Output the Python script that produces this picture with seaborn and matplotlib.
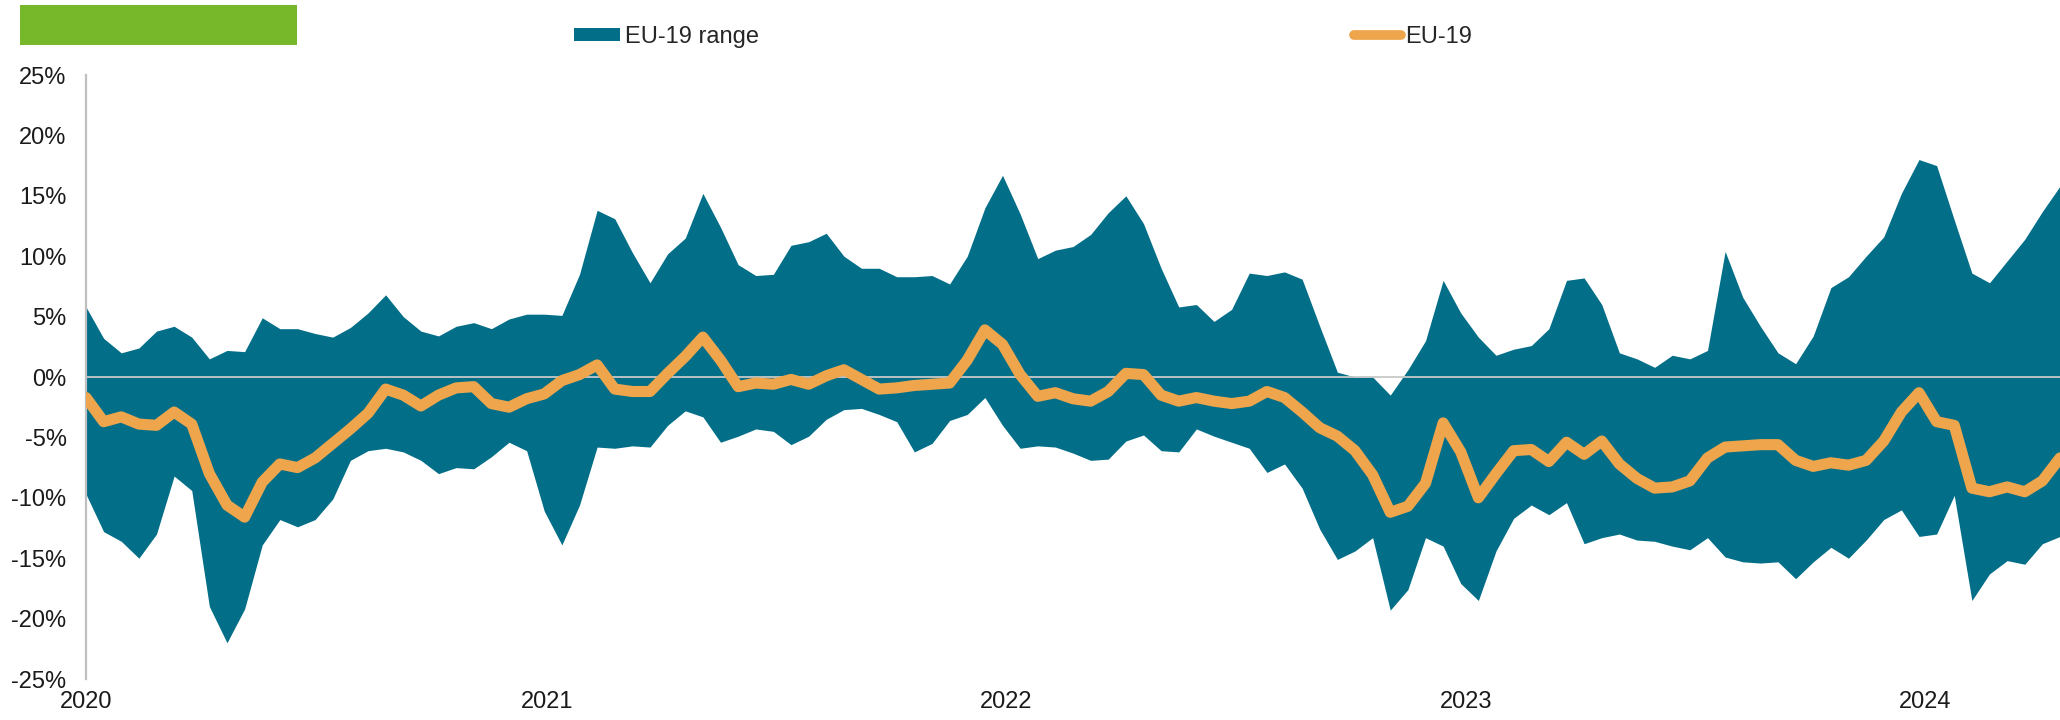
import pandas as pd
import matplotlib.pyplot as plt
import matplotlib.dates as mdates
from matplotlib.patches import Patch, Rectangle
from matplotlib.lines import Line2D
from matplotlib.ticker import FuncFormatter, MultipleLocator
import seaborn as sns

sns.set_theme(style="white")
plt.rcParams['font.family'] = ['Liberation Sans', 'DejaVu Sans']

TEAL = '#026e88'
ORANGE = '#eea54b'
GREEN = '#77b82b'

# fortnightly readings starting 1 Jan 2020 (values in %)
start = '2020-01-01'

range_high = [5.8, 3.2, 2.0, 2.4, 3.8, 4.2, 3.3, 1.5, 2.2, 2.1,
              4.9, 4.0, 4.0, 3.6, 3.3, 4.1, 5.3, 6.8, 5.0, 3.8,
              3.4, 4.2, 4.5, 4.0, 4.8, 5.2, 5.2, 5.1, 8.5, 13.8,
              13.1, 10.3, 7.8, 10.2, 11.5, 15.2, 12.4, 9.3, 8.4, 8.5,
              10.9, 11.2, 11.9, 10.0, 9.0, 9.0, 8.3, 8.3, 8.4, 7.7,
              10.0, 14.0, 16.7, 13.5, 9.8, 10.5, 10.8, 11.8, 13.6, 15.0,
              12.7, 9.0, 5.8, 6.0, 4.6, 5.6, 8.6, 8.4, 8.7, 8.1,
              4.2, 0.4, 0.0, 0.0, -1.5, 0.6, 3.0, 8.0, 5.3, 3.3,
              1.8, 2.3, 2.6, 4.0, 8.0, 8.2, 6.0, 2.0, 1.5, 0.8,
              1.8, 1.5, 2.2, 10.4, 6.6, 4.2, 2.0, 1.1, 3.4, 7.4,
              8.3, 10.0, 11.6, 15.2, 18.0, 17.5, 13.0, 8.6, 7.8, 9.6,
              11.4, 13.7, 15.8]

range_low = [-9.7, -12.8, -13.6, -15.0, -13.0, -8.2, -9.4, -19.0, -22.0, -19.2,
             -13.9, -11.8, -12.4, -11.8, -10.1, -6.9, -6.1, -5.9, -6.2, -6.9,
             -8.0, -7.5, -7.6, -6.6, -5.4, -6.1, -11.1, -13.9, -10.6, -5.8,
             -5.9, -5.7, -5.8, -4.0, -2.8, -3.3, -5.4, -4.9, -4.3, -4.5,
             -5.6, -4.9, -3.5, -2.7, -2.6, -3.1, -3.7, -6.2, -5.5, -3.6,
             -3.1, -1.7, -4.0, -5.9, -5.7, -5.8, -6.3, -6.9, -6.8, -5.3,
             -4.8, -6.1, -6.2, -4.3, -4.9, -5.4, -5.9, -7.9, -7.2, -9.2,
             -12.6, -15.1, -14.4, -13.3, -19.3, -17.6, -13.3, -14.0, -17.1, -18.5,
             -14.4, -11.7, -10.6, -11.4, -10.4, -13.8, -13.3, -13.0, -13.5, -13.6,
             -14.0, -14.3, -13.3, -14.9, -15.3, -15.4, -15.3, -16.7, -15.3, -14.1,
             -15.0, -13.5, -11.8, -11.0, -13.2, -13.0, -9.8, -18.5, -16.3, -15.2,
             -15.5, -13.8, -13.2]

eu19 = [-1.7, -3.7, -3.3, -3.9, -4.0, -2.9, -3.9, -8.0, -10.6, -11.6,
        -8.7, -7.2, -7.5, -6.7, -5.5, -4.3, -3.0, -1.0, -1.5, -2.4,
        -1.5, -0.9, -0.8, -2.2, -2.5, -1.8, -1.4, -0.3, 0.2, 1.0,
        -1.0, -1.2, -1.2, 0.3, 1.7, 3.3, 1.4, -0.8, -0.5, -0.6,
        -0.2, -0.6, 0.1, 0.6, -0.2, -1.0, -0.9, -0.7, -0.6, -0.5,
        1.4, 3.9, 2.7, 0.2, -1.6, -1.3, -1.8, -2.0, -1.2, 0.3,
        0.2, -1.5, -2.0, -1.7, -2.0, -2.2, -2.0, -1.2, -1.7, -2.9,
        -4.2, -4.9, -6.1, -8.1, -11.2, -10.7, -8.8, -3.8, -6.2, -10.0,
        -8.0, -6.1, -6.0, -7.0, -5.4, -6.4, -5.3, -7.2, -8.4, -9.2,
        -9.1, -8.6, -6.7, -5.8, -5.7, -5.6, -5.6, -6.9, -7.4, -7.1,
        -7.3, -6.9, -5.3, -2.9, -1.3, -3.7, -4.0, -9.2, -9.5, -9.1,
        -9.5, -8.6, -6.7]

dates = pd.date_range(start, periods=len(eu19), freq='14D')
df = pd.DataFrame({'Date': dates, 'High': range_high, 'Low': range_low, 'EU-19': eu19})

fig = plt.figure(figsize=(20.6, 7.2), dpi=100)
ax = fig.add_axes([86 / 2060, 1 - 679 / 720, 1 - 86 / 2060, (679 - 75) / 720])

ax.fill_between(df['Date'], df['Low'], df['High'], color=TEAL, linewidth=0, zorder=1)
ax.axhline(0, color='#c8c8c8', linewidth=1.3, zorder=2)
sns.lineplot(data=df, x='Date', y='EU-19', color=ORANGE, linewidth=8, ax=ax,
             zorder=3, legend=False, solid_capstyle='round', solid_joinstyle='round')

ax.set_xlim(df['Date'].iloc[0], df['Date'].iloc[-1])
ax.set_ylim(-25, 25)
ax.yaxis.set_major_locator(MultipleLocator(5))
ax.yaxis.set_major_formatter(FuncFormatter(lambda v, p: f'{int(round(v))}%'))
ax.xaxis.set_major_locator(mdates.YearLocator())
ax.xaxis.set_major_formatter(mdates.DateFormatter('%Y'))
ax.set_xlabel('')
ax.set_ylabel('')
ax.grid(False)
ax.tick_params(axis='both', length=0, labelsize=17, colors='#1a1a1a')
ax.tick_params(axis='y', pad=14)
ax.tick_params(axis='x', pad=9)

for side in ['top', 'right', 'bottom']:
    ax.spines[side].set_visible(False)
ax.spines['left'].set_color('#bfbfbf')
ax.spines['left'].set_linewidth(1.6)

# green header block
fig.add_artist(Rectangle((20 / 2060, 1 - 45 / 720), 277 / 2060, 40 / 720,
                         transform=fig.transFigure, color=GREEN, linewidth=0))

# legend
h_range = Patch(facecolor=TEAL, edgecolor='none')
h_line = Line2D([], [], color=ORANGE, linewidth=7, solid_capstyle='round')
fig.legend([h_range], ['EU-19 range'], loc='center left',
           bbox_to_anchor=(574 / 2060, 1 - 37 / 720), frameon=False, fontsize=17,
           handlelength=1.95, handleheight=0.5, handletextpad=0.2, borderpad=0, borderaxespad=0)
fig.legend([h_line], ['EU-19'], loc='center left',
           bbox_to_anchor=(1354 / 2060, 1 - 37 / 720), frameon=False, fontsize=17,
           handlelength=2.0, handletextpad=0.15, borderpad=0, borderaxespad=0)

fig.savefig('out.png', dpi=100)
